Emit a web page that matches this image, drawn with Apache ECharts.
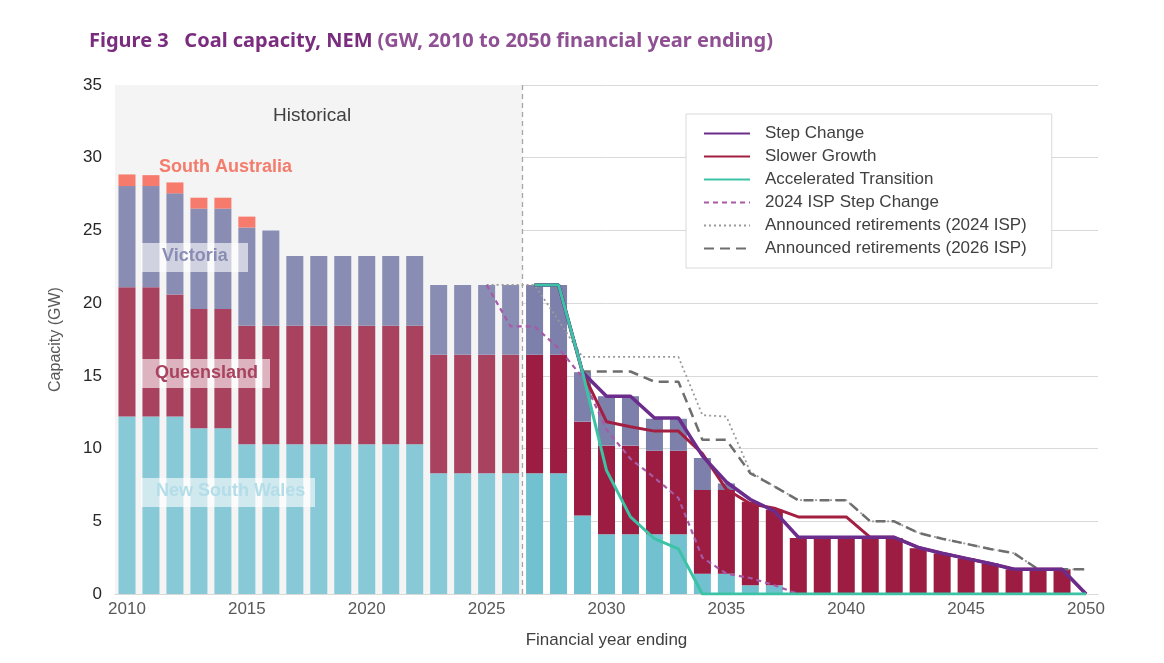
<!DOCTYPE html>
<html>
<head>
<meta charset="utf-8">
<script src="https://cdn.jsdelivr.net/npm/echarts@6/dist/echarts.min.js"></script>
<style>
  html, body { margin: 0; padding: 0; background: #fff; }
  #chart { width: 1164px; height: 663px; }
</style>
</head>
<body>
<div id="chart"></div>
<script>
// financial year ending
var years = ['2010','2011','2012','2013','2014','2015','2016','2017','2018','2019',
  '2020','2021','2022','2023','2024','2025','2026','2027','2028','2029',
  '2030','2031','2032','2033','2034','2035','2036','2037','2038','2039',
  '2040','2041','2042','2043','2044','2045','2046','2047','2048','2049','2050'];

// stacked coal capacity by region (GW), Step Change
var nsw = [12.2,12.2,12.2,11.4,11.4,10.3,10.3,10.3,10.3,10.3,
  10.3,10.3,10.3,8.3,8.3,8.3,8.3,8.3,8.3,5.4,
  4.1,4.1,4.1,4.1,1.4,1.4,0.6,0.6,0,0,
  0,0,0,0,0,0,0,0,0,0,0];
var qld = [8.9,8.9,8.4,8.2,8.2,8.15,8.15,8.15,8.15,8.15,
  8.15,8.15,8.15,8.15,8.15,8.15,8.15,8.15,8.15,6.45,
  6.1,6.1,5.75,5.75,5.75,5.75,5.75,5.2,3.85,3.85,
  3.85,3.85,3.85,3.15,2.8,2.45,2.1,1.7,1.7,1.7,0];
var vic = [6.95,6.95,6.95,6.9,6.9,6.75,6.55,4.8,4.8,4.8,
  4.8,4.8,4.8,4.8,4.8,4.8,4.8,4.8,4.8,3.4,
  3.4,3.4,2.2,2.2,2.2,0.45,0,0,0,0,
  0,0,0,0,0,0,0,0,0,0,0];
var sa = [0.8,0.75,0.75,0.75,0.75,0.75,0,0,0,0,
  0,0,0,0,0,0,0,0,0,0,
  0,0,0,0,0,0,0,0,0,0,
  0,0,0,0,0,0,0,0,0,0,0];

// scenario totals (GW)
var stepChange = [null,null,null,null,null,null,null,null,null,null,
  null,null,null,null,null,null,null,21.25,21.25,15.25,
  13.6,13.6,12.1,12.1,9.5,7.7,6.5,5.7,3.9,3.9,
  3.9,3.9,3.9,3.2,2.8,2.45,2.1,1.7,1.7,1.7,0];
var slowerGrowth = [null,null,null,null,null,null,null,null,null,null,
  null,null,null,null,null,null,null,21.25,21.25,15.25,
  11.85,11.5,11.2,11.2,9.65,7.2,6.2,5.9,5.3,5.3,
  5.3,3.9,3.9,3.2,2.8,2.45,2.1,1.7,1.7,1.7,0];
var accelerated = [null,null,null,null,null,null,null,null,null,null,
  null,null,null,null,null,null,null,21.25,21.25,15.25,
  8.5,5.3,3.8,3.1,0,0,0,0,0,0,
  0,0,0,0,0,0,0,0,0,0,0];
var isp2024Step = [null,null,null,null,null,null,null,null,null,null,
  null,null,null,null,null,21.25,18.4,18.4,16.9,14.9,
  11.3,9.3,8.0,6.6,2.5,1.4,1.1,0.6,0,0,
  0,0,0,0,0,0,0,0,0,0,0];
var announced2024 = [null,null,null,null,null,null,null,null,null,null,
  null,null,null,null,null,21.25,21.25,21.25,18.8,16.3,
  16.3,16.3,16.3,16.3,12.3,12.2,8.4,7.4,6.45,6.45,
  6.45,5.0,5.0,4.2,3.8,3.45,3.1,2.8,1.7,1.7,1.7];
var announced2026 = [null,null,null,null,null,null,null,null,null,null,
  null,null,null,null,null,null,null,21.25,21.25,15.3,
  15.3,15.3,14.6,14.6,10.6,10.6,8.3,7.4,6.45,6.45,
  6.45,5.0,5.0,4.2,3.8,3.45,3.1,2.8,1.7,1.7,1.7];

var lastHistYear = 2026;
var histCount = 17; // 2010..2026

var font = 'Liberation Sans, Arial, sans-serif';

function regionBar(name, data, histColor, projColor){
  return {
    name: name,
    type: 'bar',
    stack: 'coal',
    data: data,
    barWidth: '71%',
    z: 2,
    itemStyle: {
      color: function(p){ return p.dataIndex < histCount ? histColor : projColor; }
    }
  };
}
function scenarioLine(name, data, color, width, type, z){
  return {
    name: name,
    type: 'line',
    data: data,
    symbol: 'none',
    z: z,
    lineStyle: { color: color, width: width, type: type },
    itemStyle: { color: color }
  };
}

var option = {
  animation: false,
  textStyle: { fontFamily: font },
  title: {
    left: 84,
    top: 26,
    text: '{b|Figure 3   Coal capacity, NEM} {n|(GW, 2010 to 2050 financial year ending)}',
    textStyle: {
      rich: {
        b: { fontFamily: 'Noto Sans, sans-serif', fontWeight: 'bold', fontSize: 20, color: '#7a2c7f' },
        n: { fontFamily: 'Noto Sans, sans-serif', fontSize: 20, color: '#8f4f93' }
      }
    }
  },
  grid: { left: 115, right: 66, top: 85, bottom: 69, containLabel: false },
  legend: {
    orient: 'vertical',
    left: 686,
    top: 114,
    padding: [11, 25, 11, 17],
    itemWidth: 46,
    itemHeight: 12,
    itemGap: 6,
    itemStyle: { opacity: 0 },
    backgroundColor: '#ffffff',
    borderColor: '#d9d9d9',
    borderWidth: 1,
    textStyle: { fontSize: 17, lineHeight: 17, color: '#404040', fontFamily: font, padding: [0, 0, 0, 10] },
    data: ['Step Change', 'Slower Growth', 'Accelerated Transition', '2024 ISP Step Change',
      'Announced retirements (2024 ISP)', 'Announced retirements (2026 ISP)']
  },
  xAxis: [{
    type: 'category',
    data: years,
    boundaryGap: true,
    axisLine: { lineStyle: { color: '#d9d9d9' } },
    axisTick: { interval: 4, alignWithLabel: true, length: 5, lineStyle: { color: '#d9d9d9' } },
    axisLabel: { interval: 4, fontSize: 17, color: '#595959', margin: 7 },
    name: 'Financial year ending',
    nameLocation: 'middle',
    nameGap: 38,
    nameTextStyle: { fontSize: 17, color: '#404040' }
  }, {
    type: 'value',
    min: 2009.5,
    max: 2050.5,
    show: false
  }],
  yAxis: {
    type: 'value',
    min: 0,
    max: 35,
    interval: 5,
    axisLine: { show: false },
    axisTick: { show: false },
    splitLine: { lineStyle: { color: '#d9d9d9', width: 1 } },
    axisLabel: { fontSize: 17, color: '#262626', margin: 13 },
    name: 'Capacity (GW)',
    nameLocation: 'middle',
    nameGap: 51,
    nameTextStyle: { fontSize: 16, color: '#595959' }
  },
  series: [
    {
      name: 'historical',
      type: 'line',
      xAxisIndex: 1,
      data: [],
      z: -1,
      markArea: {
        silent: true,
        itemStyle: { color: '#f4f4f4' },
        data: [[{ xAxis: 2009.5, yAxis: 0 }, { xAxis: lastHistYear + 0.5, yAxis: 35 }]]
      },
      markLine: {
        silent: true,
        symbol: 'none',
        label: { show: false },
        lineStyle: { color: '#a6a6a6', type: [5, 4], width: 1.3 },
        data: [{ xAxis: lastHistYear + 0.5 }]
      }
    },
    regionBar('New South Wales', nsw, '#88c9d7', '#72c1d1'),
    regionBar('Queensland', qld, '#a8425f', '#9c1d41'),
    regionBar('Victoria', vic, '#8a8db3', '#7c80aa'),
    regionBar('South Australia', sa, '#f67b6d', '#f67b6d'),
    scenarioLine('Announced retirements (2024 ISP)', announced2024, '#9a9a9a', 1.8, [2, 3], 3),
    scenarioLine('Announced retirements (2026 ISP)', announced2026, '#6e6e6e', 2.5, [10, 6], 4),
    scenarioLine('2024 ISP Step Change', isp2024Step, '#a65aa8', 2.2, [5, 4], 5),
    scenarioLine('Slower Growth', slowerGrowth, '#a31f41', 3, 'solid', 6),
    scenarioLine('Step Change', stepChange, '#6b2c8c', 3.5, 'solid', 7),
    scenarioLine('Accelerated Transition', accelerated, '#3cc3a6', 3, 'solid', 8)
  ],
  graphic: [
    { type: 'text', left: 273, top: 106, z: 10,
      style: { text: 'Historical', font: '19px ' + font, fill: '#404040' } },
    { type: 'text', left: 159, top: 158, z: 10,
      style: { text: 'South Australia', font: 'bold 18px ' + font, fill: '#f47c6c' } },
    { type: 'rect', left: 141, top: 243, z: 10,
      shape: { width: 107, height: 29 }, style: { fill: 'rgba(255,255,255,0.6)' } },
    { type: 'text', left: 162, top: 247, z: 11,
      style: { text: 'Victoria', font: 'bold 18px ' + font, fill: '#8a8db3' } },
    { type: 'rect', left: 141, top: 359, z: 10,
      shape: { width: 129, height: 29 }, style: { fill: 'rgba(255,255,255,0.6)' } },
    { type: 'text', left: 155, top: 364, z: 11,
      style: { text: 'Queensland', font: 'bold 18px ' + font, fill: '#a8425f' } },
    { type: 'rect', left: 141, top: 478, z: 10,
      shape: { width: 174, height: 29 }, style: { fill: 'rgba(255,255,255,0.6)' } },
    { type: 'text', left: 156, top: 482, z: 11,
      style: { text: 'New South Wales', font: 'bold 18px ' + font, fill: '#b3dde8' } }
  ]
};

var chart = echarts.init(document.getElementById('chart'));
chart.setOption(option);
</script>
</body>
</html>
